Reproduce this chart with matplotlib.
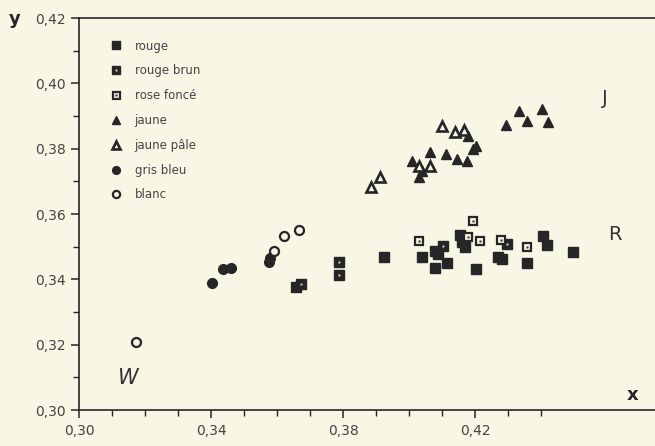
import matplotlib
matplotlib.use("Agg")
import matplotlib.pyplot as plt
from matplotlib.ticker import FixedLocator, FuncFormatter
from matplotlib.legend_handler import HandlerTuple

# data (x, y chromaticity)
rouge_x = [0.3658, 0.3924, 0.4039, 0.4079, 0.4088, 0.4079, 0.4115, 0.4155, 0.4161,
           0.4170, 0.4203, 0.4270, 0.4282, 0.4358, 0.4406, 0.4418, 0.4497]
rouge_y = [0.3378, 0.3468, 0.3468, 0.3486, 0.3477, 0.3434, 0.3449, 0.3535, 0.3514,
           0.3498, 0.3431, 0.3468, 0.3462, 0.3449, 0.3532, 0.3505, 0.3483]
rouge_brun_x = [0.3673, 0.3788, 0.3788, 0.4103, 0.4297]
rouge_brun_y = [0.3385, 0.3452, 0.3412, 0.3502, 0.3508]
rose_x = [0.4030, 0.4179, 0.4194, 0.4215, 0.4279, 0.4358]
rose_y = [0.3517, 0.3529, 0.3578, 0.3517, 0.3520, 0.3498]
jaune_x = [0.4009, 0.4039, 0.4030, 0.4064, 0.4112, 0.4145, 0.4176, 0.4179, 0.4194,
           0.4203, 0.4294, 0.4333, 0.4358, 0.4403, 0.4421]
jaune_y = [0.3763, 0.3732, 0.3714, 0.3791, 0.3785, 0.3769, 0.3763, 0.3840, 0.3800,
           0.3809, 0.3871, 0.3914, 0.3886, 0.3920, 0.3883]
jaune_pale_x = [0.3885, 0.3912, 0.4100, 0.4139, 0.4167, 0.4064, 0.4030]
jaune_pale_y = [0.3683, 0.3714, 0.3868, 0.3852, 0.3858, 0.3748, 0.3748]
gris_x = [0.3402, 0.3435, 0.3462, 0.3577, 0.3580]
gris_y = [0.3388, 0.3431, 0.3434, 0.3452, 0.3465]
blanc_x = [0.3172, 0.3592, 0.3622, 0.3667]
blanc_y = [0.3209, 0.3486, 0.3532, 0.3551]

bg = "#f8f6e5"
ink = "#262626"

fig = plt.figure(figsize=(6.55, 4.46), dpi=100, facecolor=bg)
ax = fig.add_axes([0.1206, 0.0807, 0.8794, 0.8789], facecolor=bg)

ms = 6.5
h_rouge, = ax.plot(rouge_x, rouge_y, ls="none", marker="s", ms=ms, mfc=ink, mec=ink)
h_rb1, = ax.plot(rouge_brun_x, rouge_brun_y, ls="none", marker="s", ms=ms, mfc=ink, mec=ink)
h_rb2, = ax.plot(rouge_brun_x, rouge_brun_y, ls="none", marker="s", ms=2.0, mfc="#d8d4c0", mec="none")
h_rf1, = ax.plot(rose_x, rose_y, ls="none", marker="s", ms=6.3, mfc=bg, mec=ink, mew=1.6)
h_rf2, = ax.plot(rose_x, rose_y, ls="none", marker="s", ms=2.0, mfc=ink, mec="none")
h_j, = ax.plot(jaune_x, jaune_y, ls="none", marker="^", ms=7, mfc=ink, mec=ink)
h_jp, = ax.plot(jaune_pale_x, jaune_pale_y, ls="none", marker="^", ms=7, mfc=bg, mec=ink, mew=1.9)
h_g, = ax.plot(gris_x, gris_y, ls="none", marker="o", ms=7, mfc=ink, mec=ink)
h_b, = ax.plot(blanc_x, blanc_y, ls="none", marker="o", ms=6.5, mfc=bg, mec=ink, mew=1.6)

ax.set_xlim(0.30, 0.4745)
ax.set_ylim(0.30, 0.42)

comma = FuncFormatter(lambda v, p: ("%.2f" % v).replace(".", ","))
ax.xaxis.set_major_locator(FixedLocator([0.30, 0.34, 0.38, 0.42]))
ax.xaxis.set_minor_locator(FixedLocator([0.31, 0.32, 0.33, 0.35, 0.36, 0.37, 0.39,
                                         0.40, 0.41, 0.43, 0.44]))
ax.yaxis.set_major_locator(FixedLocator([0.30, 0.32, 0.34, 0.36, 0.38, 0.40, 0.42]))
ax.yaxis.set_minor_locator(FixedLocator([0.31, 0.33, 0.35, 0.37, 0.39, 0.41]))
ax.xaxis.set_major_formatter(comma)
ax.yaxis.set_major_formatter(comma)
ax.tick_params(which="major", direction="out", length=6, width=1.1, color=ink,
               labelsize=10, labelcolor="#444444")
ax.tick_params(which="minor", direction="out", length=4, width=1.0, color=ink)
ax.tick_params(axis="x", pad=4)

for s in ["left", "bottom", "top"]:
    ax.spines[s].set_color(ink)
    ax.spines[s].set_linewidth(1.2)
ax.spines["right"].set_visible(False)

ax.text(0.3148, 0.3098, "W", fontsize=15, style="italic", color="#333333",
        ha="center", va="center")
ax.text(0.4594, 0.3954, "J", fontsize=14, color="#333333", ha="center", va="center")
ax.text(0.4624, 0.3538, "R", fontsize=14, color="#333333", ha="center", va="center")
fig.text(0.965, 0.114, "x", fontsize=13, fontweight="bold", color=ink, ha="center", va="center")
fig.text(0.023, 0.958, "y", fontsize=13, fontweight="bold", color=ink, ha="center", va="center")

leg = ax.legend([h_rouge, (h_rb1, h_rb2), (h_rf1, h_rf2), h_j, h_jp, h_g, h_b],
                ["rouge", "rouge brun", "rose foncé", "jaune", "jaune pâle", "gris bleu", "blanc"],
                handler_map={tuple: HandlerTuple(ndivide=1)},
                loc="upper left", bbox_to_anchor=(0.035, 0.972), frameon=False,
                numpoints=1, handlelength=1.0, handletextpad=1.1, labelspacing=1.0,
                fontsize=8.5, markerscale=0.8)
for t in leg.get_texts():
    t.set_color("#444444")

fig.savefig("out.png", dpi=100, facecolor=bg)
